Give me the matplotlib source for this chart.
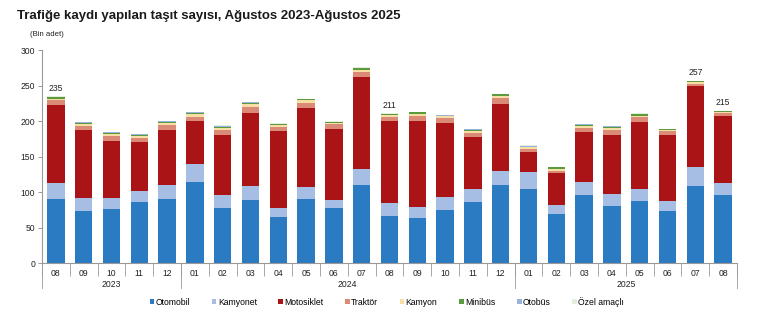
import matplotlib
matplotlib.use("Agg")
import matplotlib.pyplot as plt
from matplotlib.patches import Patch
from matplotlib.lines import Line2D
import numpy as np

plt.rcParams['font.family'] = ['Liberation Sans', 'DejaVu Sans']

months = ["08", "09", "10", "11", "12",
          "01", "02", "03", "04", "05", "06", "07", "08", "09", "10", "11", "12",
          "01", "02", "03", "04", "05", "06", "07", "08"]
years = ["2023", "2024", "2025"]
year_spans = [(0, 4), (5, 16), (17, 24)]

# Registered vehicles by type (thousand units)
otomobil   = [90, 74, 76, 86, 90, 114, 78, 89, 65, 90, 77, 110, 67, 64, 75, 86, 110, 105, 69.5, 96, 81, 88, 73, 108, 96]
kamyonet   = [23, 17, 15, 16, 20, 26, 18, 20, 13, 17, 12, 23, 17, 15.5, 17.5, 19, 20, 23, 12, 18, 17, 16.5, 15, 27, 17]
motosiklet = [110, 96, 81, 68, 77, 60, 84, 103, 108, 111, 100, 129, 116, 121, 105, 73, 94, 29, 45, 71, 83, 95, 92, 114, 94]
traktor    = [6.5, 6.7, 7, 7, 8, 6, 8, 8.5, 6.5, 8, 6.5, 7, 6.5, 7, 7, 6, 8.5, 3.5, 3.5, 5, 6, 6, 5.5, 3.5, 4]
kamyon     = [2.5, 2.5, 3, 2.5, 2.8, 3.5, 3, 3.5, 2.2, 3.5, 2.5, 3.5, 2.5, 2.5, 2.4, 2, 3, 2.5, 2.8, 3, 3, 2.5, 1.8, 2.4, 2]
minibus    = [1.8, 1.8, 2, 1.6, 1.4, 2.6, 1.5, 1.8, 1.5, 1.4, 0.8, 2.5, 1.4, 2.3, 1, 2.2, 2.6, 1.3, 2.5, 2, 2.2, 2.2, 1.2, 1.5, 1.3]
otobus     = [0.8, 0.6, 0.6, 0.5, 0.5, 0.5, 1.1, 0.8, 0.5, 0.8, 0.5, 0.6, 0.4, 0.4, 0.8, 0.5, 0.6, 1.2, 0.4, 0.6, 0.5, 0.5, 0.3, 0.6, 0.4]
ozel_amacli = [0.4, 0.4, 0.4, 0.4, 0.3, 0.4, 0.4, 0.4, 0.3, 0.3, 0.7, 0.4, 0.2, 0.3, 0.3, 0.3, 0.3, 0.5, 0.3, 0.4, 0.3, 0.3, 0.2, 0.4, 0.3]

series = [
    ("Otomobil", otomobil, "#2a7bc1"),
    ("Kamyonet", kamyonet, "#a6bde4"),
    ("Motosiklet", motosiklet, "#ab1416"),
    ("Traktör", traktor, "#da8a76"),
    ("Kamyon", kamyon, "#f7dea4"),
    ("Minibüs", minibus, "#5b9a3d"),
    ("Otobüs", otobus, "#98b4dc"),
    ("Özel amaçlı", ozel_amacli, "#e4eedd"),
]

# Totals printed above selected bars
labeled = {0: 235, 12: 211, 23: 257, 24: 215}

fig = plt.figure(figsize=(7.6, 3.31), dpi=100)
ax = fig.add_axes([0.0553, 0.2054, 0.9144, 0.6426])

x = np.arange(len(months))
bottom = np.zeros(len(months))
for name, vals, color in series:
    v = np.array(vals, dtype=float)
    ax.bar(x, v, bottom=bottom, width=0.63, color=color, label=name, linewidth=0)
    bottom += v

for i, val in labeled.items():
    ax.text(i, val + 5, str(val), ha="center", va="bottom", fontsize=6.2, color="#222222")

ax.set_xlim(-0.5, len(months) - 0.5)
ax.set_ylim(0, 300)
ax.set_yticks(np.arange(0, 301, 50))
ax.tick_params(axis="y", labelsize=6.2, length=3, width=0.6, color="#888888", pad=2, labelcolor="#222222")

for s in ["top", "right"]:
    ax.spines[s].set_visible(False)
for s in ["left", "bottom"]:
    ax.spines[s].set_color("#999999")
    ax.spines[s].set_linewidth(0.8)

# Month labels and separators
ax.set_xticks(x)
ax.set_xticklabels(months)
ax.tick_params(axis="x", length=0, labelsize=6.2, pad=4, labelcolor="#222222")
ax.set_xticks(np.arange(-0.5, len(months), 1.0), minor=True)
ax.tick_params(axis="x", which="minor", length=9, width=0.6, color="#999999")

# Year groups
trans = ax.get_xaxis_transform()
for (a, b), yr in zip(year_spans, years):
    ax.text((a + b) / 2, -0.1, yr, transform=trans, ha="center", va="center",
            fontsize=6.2, color="#222222")
for edge in [-0.5, 4.5, 16.5, 24.5]:
    ax.add_line(Line2D([edge, edge], [0, -0.118], transform=trans, color="#999999",
                       linewidth=0.6, clip_on=False))

fig.text(0.022, 0.951, "Trafiğe kaydı yapılan taşıt sayısı, Ağustos 2023-Ağustos 2025",
         fontsize=9.5, fontweight="bold", color="#1a1a1a", ha="left", va="center")
fig.text(0.04, 0.897, "(Bin adet)", fontsize=5.6, color="#222222", ha="left", va="center")

handles = [Patch(facecolor=c, edgecolor="none", label=n) for n, _, c in series]
fig.legend(handles=handles, loc="center", bbox_to_anchor=(0.509, 0.088), ncol=8,
           frameon=False, fontsize=6.2, handlelength=0.55, handleheight=0.55,
           handletextpad=0.15, columnspacing=2.5, borderpad=0)

fig.savefig("out.png", dpi=100, facecolor="white")
